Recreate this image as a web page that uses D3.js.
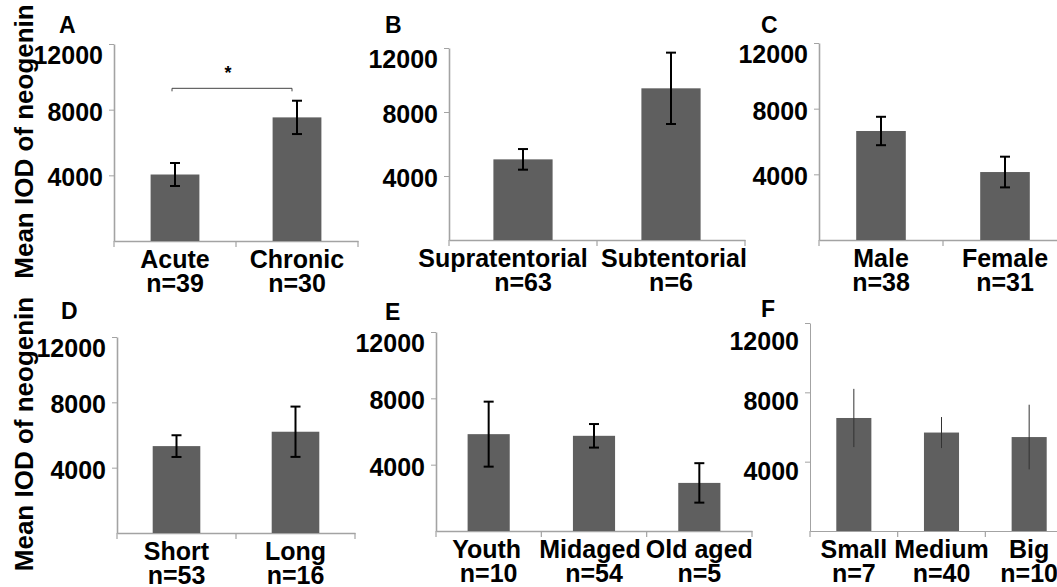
<!DOCTYPE html>
<html>
<head>
<meta charset="utf-8">
<script src="https://cdn.jsdelivr.net/npm/d3@7"></script>
<style>
  html, body { margin: 0; padding: 0; background: #fff; }
  svg { display: block; }
  text { font-family: "Liberation Sans", Arial, sans-serif; font-weight: bold; fill: #000; }
</style>
</head>
<body>
<svg id="chart" width="1057" height="587"></svg>
<script>
// ---------------- data ----------------
const panelLetters = ["A", "B", "C", "D", "E", "F"];
const yTitle = "Mean IOD of neogenin";
const yTickValues = [4000, 8000, 12000];

const catsA = ["Acute", "Chronic"];
const nA    = ["n=39", "n=30"];
const meanA = [4050, 7530];
const errA  = [700, 1015];

const catsB = ["Supratentorial", "Subtentorial"];
const nB    = ["n=63", "n=6"];
const meanB = [5040, 9480];
const errB  = [645, 2230];

const catsC = ["Male", "Female"];
const nC    = ["n=38", "n=31"];
const meanC = [6640, 4140];
const errC  = [865, 935];

const catsD = ["Short", "Long"];
const nD    = ["n=53", "n=16"];
const meanD = [5320, 6200];
const errD  = [665, 1540];

const catsE = ["Youth", "Midaged", "Old aged"];
const nE    = ["n=10", "n=54", "n=5"];
const meanE = [5840, 5740, 2900];
const errE  = [1960, 710, 1190];

const catsF = ["Small", "Medium", "Big"];
const nF    = ["n=7", "n=40", "n=10"];
const meanF = [6520, 5680, 5420];
const errF  = [1680, 895, 1865];

// significance bracket in panel A
const sigPair = ["Acute", "Chronic"];
const sigLevel = 9300;
const sigMark = "*";

// ---------------- layout (positions / styles) ----------------
const panels = [
  { letter: panelLetters[0], cats: catsA, ns: nA, mean: meanA, err: errA, x0: 114, x1: 358, yb: 241, yt: 44,  lx: 59,  ly: 33,  title: true,  thin: false, sig: true },
  { letter: panelLetters[1], cats: catsB, ns: nB, mean: meanB, err: errB, x0: 449, x1: 745, yb: 240, yt: 48,  lx: 385, ly: 33,  title: false, thin: false, shift: [-20, 3] },
  { letter: panelLetters[2], cats: catsC, ns: nC, mean: meanC, err: errC, x0: 819, x1: 1067, yb: 240, yt: 43, lx: 761, ly: 33,  title: false, thin: false },
  { letter: panelLetters[3], cats: catsD, ns: nD, mean: meanD, err: errD, x0: 117, x1: 355, yb: 533, yt: 337, lx: 61,  ly: 319, title: true,  thin: false },
  { letter: panelLetters[4], cats: catsE, ns: nE, mean: meanE, err: errE, x0: 436, x1: 752, yb: 531, yt: 332, lx: 385, ly: 320, title: false, thin: false, shift: [-2, -4, 0] },
  { letter: panelLetters[5], cats: catsF, ns: nF, mean: meanF, err: errF, x0: 810, x1: 1073, yb: 531, yt: 323, lx: 761, ly: 317, title: false, thin: true, tickShift: 7 }
];

const BAR = "#5f5f5f";
const AXIS = "#a3a3a3";

const svg = d3.select("#chart");

panels.forEach(p => {
  const g = svg.append("g");
  const y = d3.scaleLinear().domain([0, 12000]).range([p.yb, p.yt]);
  const x = d3.scaleBand().domain(p.cats).range([p.x0, p.x1]).paddingInner(0.6).paddingOuter(0.3);
  const bw = x.bandwidth();
  const step = x.step();
  const axisW = p.thin ? 1 : 1.6;

  // y axis
  const ya = g.append("g")
    .attr("transform", `translate(${p.x0},0)`)
    .call(d3.axisLeft(y).tickValues(yTickValues).tickFormat(d3.format("d"))
      .tickSize(5).tickSizeOuter(0).tickPadding(6));
  ya.select(".domain").attr("stroke", AXIS).attr("stroke-width", axisW);
  ya.selectAll(".tick line").attr("stroke", AXIS).attr("stroke-width", 1);
  ya.selectAll(".tick text")
    .style("font-size", "25px")
    .attr("fill", "#000")
    .attr("y", p.tickShift || 0)
    .attr("dy", d => d === 12000 ? "0.76em" : "0.42em");

  // x axis line with category boundary ticks
  const xa = g.append("g")
    .attr("transform", `translate(0,${p.yb})`)
    .call(d3.axisBottom(x).tickSize(0).tickSizeOuter(0).tickFormat(""));
  xa.select(".domain").attr("stroke", AXIS).attr("stroke-width", axisW);
  const bounds = d3.range(p.cats.length + 1).map(i => p.x0 + i * step);
  g.selectAll(".btick").data(bounds).join("line")
    .attr("x1", d => d).attr("x2", d => d)
    .attr("y1", p.yb).attr("y2", p.yb + 6)
    .attr("stroke", AXIS).attr("stroke-width", 1.2);

  // bars
  g.selectAll(".bar").data(p.cats).join("rect")
    .attr("x", c => x(c))
    .attr("y", (c, i) => y(p.mean[i]))
    .attr("width", bw)
    .attr("height", (c, i) => p.yb - y(p.mean[i]))
    .attr("fill", BAR);

  // error bars
  const eb = g.selectAll(".err").data(p.cats).join("g");
  eb.append("line")
    .attr("x1", c => x(c) + bw / 2).attr("x2", c => x(c) + bw / 2)
    .attr("y1", (c, i) => y(p.mean[i] + p.err[i]))
    .attr("y2", (c, i) => y(p.mean[i] - p.err[i]))
    .attr("stroke", p.thin ? "#333" : "#000")
    .attr("stroke-width", p.thin ? 1 : 2);
  if (!p.thin) {
    [1, -1].forEach(s => {
      eb.append("line")
        .attr("x1", c => x(c) + bw / 2 - 5).attr("x2", c => x(c) + bw / 2 + 5)
        .attr("y1", (c, i) => y(p.mean[i] + s * p.err[i]))
        .attr("y2", (c, i) => y(p.mean[i] + s * p.err[i]))
        .attr("stroke", "#000").attr("stroke-width", 2);
    });
  }

  // category labels (two lines in one text)
  p.cats.forEach((c, i) => {
    const cx = x(c) + bw / 2;
    const sh = p.shift ? p.shift[i] : 0;
    const t = g.append("text").attr("text-anchor", "middle").style("font-size", "25px");
    t.append("tspan").attr("x", cx + sh).attr("y", p.yb + 27).text(c);
    t.append("tspan").attr("x", cx).attr("y", p.yb + 51).text(p.ns[i]);
  });

  // panel letter
  g.append("text").attr("x", p.lx).attr("y", p.ly)
    .style("font-size", "23px").text(p.letter);

  // y title
  if (p.title) {
    const cy = (p.yb + p.yt) / 2 - 1;
    g.append("text")
      .attr("transform", `translate(33,${cy}) rotate(-90)`)
      .attr("text-anchor", "middle")
      .style("font-size", "26px")
      .text(yTitle);
  }

  // significance bracket
  if (p.sig) {
    const xa1 = x(sigPair[0]) + bw / 2 - 3;
    const xa2 = x(sigPair[1]) + bw / 2 - 5;
    const yy = y(sigLevel);
    g.append("path")
      .attr("d", `M${xa1},${yy + 3}V${yy}H${xa2}V${yy + 3}`)
      .attr("fill", "none").attr("stroke", "#444").attr("stroke-width", 1);
    g.append("text").attr("x", (xa1 + xa2) / 2 - 4).attr("y", yy - 9)
      .attr("text-anchor", "middle").style("font-size", "18px").text(sigMark);
  }
});
</script>
</body>
</html>
